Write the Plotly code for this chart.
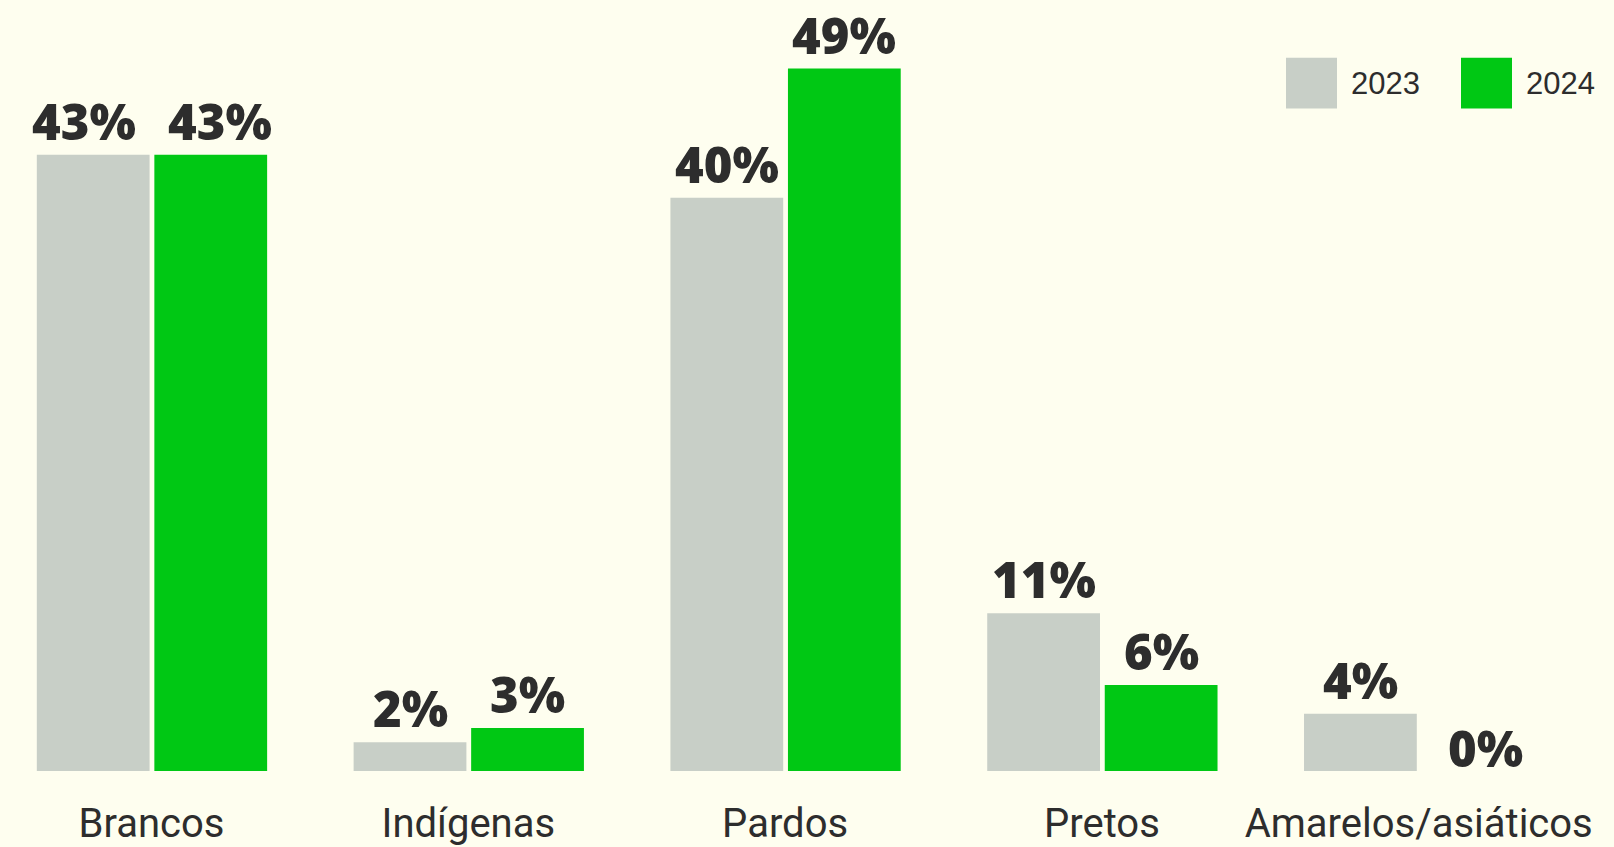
import plotly.graph_objects as go

categories = ["Brancos", "Indígenas", "Pardos", "Pretos", "Amarelos/asiáticos"]
values_2023 = [43, 2, 40, 11, 4]
values_2024 = [43, 3, 49, 6, 0]
series_names = ["2023", "2024"]

C2023 = "#c8cfc7"
C2024 = "#00c814"
BG = "#fefeef"
TXT = "#2d2d2d"

x_idx = list(range(len(categories)))
BAR_W = 0.356
OFFSETS = [-0.362, 0.009]
# horizontal nudges of value labels (px), to keep neighbouring labels apart
XSHIFT = [[-9, 0, 0, 0, 0], [9, 0, 0, 0, 8]]

fig = go.Figure()
for s, (name, vals, col) in enumerate([(series_names[0], values_2023, C2023),
                                        (series_names[1], values_2024, C2024)]):
    fig.add_trace(go.Bar(
        x=x_idx, y=vals, name=name, marker=dict(color=col, line=dict(width=0)),
        width=BAR_W, offset=OFFSETS[s], showlegend=False, hoverinfo="x+y",
    ))
    for i, v in enumerate(vals):
        fig.add_annotation(
            x=i + OFFSETS[s] + BAR_W / 2, y=v, xref="x", yref="y",
            text=f"{v}%", showarrow=False, xanchor="center", yanchor="bottom",
            yshift=-1 if v > 0 else -12, xshift=XSHIFT[s][i],
            font=dict(family="Open Sans, sans-serif", size=49, color=TXT, weight=800),
        )

W, H = 1614, 847
fig.update_layout(
    width=W, height=H,
    margin=dict(l=0, r=0, t=0, b=73),
    paper_bgcolor=BG, plot_bgcolor=BG,
    barmode="overlay",
    xaxis=dict(
        range=[-151.5 / 316.8, (W - 151.5) / 316.8],
        tickmode="array", tickvals=x_idx, ticktext=categories,
        tickfont=dict(family="Roboto, sans-serif", size=40, color=TXT),
        showgrid=False, zeroline=False, showline=False, ticks="",
        ticklabelstandoff=25,
    ),
    yaxis=dict(range=[0, 774 / 14.39], visible=False, showgrid=False, zeroline=False),
)

# legend drawn at top right
PH = H - 73
leg = [(series_names[0], C2023, 1286), (series_names[1], C2024, 1461)]
for name, col, x0 in leg:
    fig.add_shape(type="rect", xref="paper", yref="paper",
                  x0=x0 / W, x1=(x0 + 51) / W,
                  y0=1 - 109 / PH, y1=1 - 58 / PH,
                  fillcolor=col, line=dict(width=0), layer="above")
    fig.add_annotation(xref="paper", yref="paper", x=(x0 + 63) / W, y=1 - 84 / PH,
                       text=name, showarrow=False, xanchor="left", yanchor="middle",
                       font=dict(family="Liberation Sans, Arial, sans-serif", size=31, color=TXT))

fig.write_html("out.html", config={"displayModeBar": False},
               post_script="document.body.style.margin='0';")
